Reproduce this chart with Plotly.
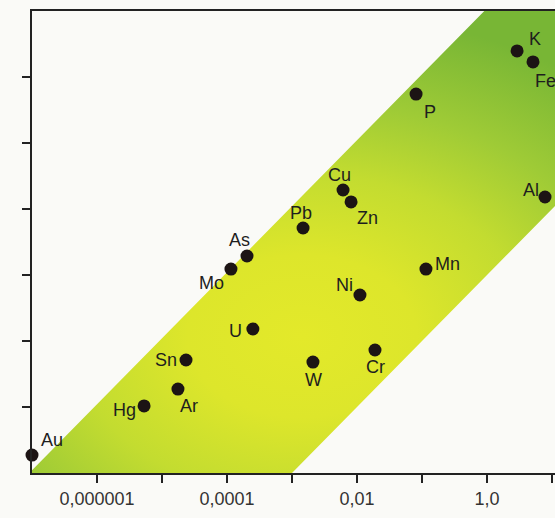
import numpy as np
import plotly.graph_objects as go

# ---- data ----
elements = ["Au", "Hg", "Ar", "Sn", "U", "Mo", "As", "Pb", "Cu", "Zn",
            "Ni", "W", "Cr", "Mn", "Al", "P", "K", "Fe"]
x_values = [1e-7, 5.3e-6, 1.76e-5, 2.34e-5, 2.5e-4, 1.15e-4, 2.03e-4, 1.48e-3, 6.1e-3, 8.1e-3,
            0.0111, 2.1e-3, 0.0189, 0.115, 7.8, 0.081, 2.9, 5.1]
y_values = [1.87, 10.4, 18.7, 51.5, 152, 1230, 1940, 5150, 19400, 12800,
            498, 48, 73, 1230, 15200, 552000, 2.48e6, 1.69e6]

x_tick_vals = [1e-6, 1e-5, 1e-4, 1e-3, 1e-2, 1e-1, 1, 10]
x_tick_text = ["0,000001", "", "0,0001", "", "0,01", "", "1,0", ""]
y_tick_vals = [10, 100, 1e3, 1e4, 1e5, 1e6]

# band limits (y = factor * x)
band_upper_factor = 1.1e7
band_lower_factor = 1e3

# label offsets in pixels (dx right, dy down)
label_dx = [20, -20, 11, -20, -17, -19, -7, -2, -4, 16, -15, 1, 1, 22, -14, 14, 18, 12]
label_dy = [-15, 4, 17, 0, 2, 14, -16, -15, -15, 16, -10, 18, 17, -5, -7, 18, -12, 19]

xmin, xmax = 1e-7, 10 ** 1.046
ymin, ymax = 1, 1e7

# band polygon, extended outside the visible area (clipped) so the
# radial gradient centre sits in the lower middle of the band
y_ext = 10 ** -2.85
x_far = 10 ** 4.2
x_r = 10 ** 1.2
band_x = [y_ext / band_upper_factor, ymax / band_upper_factor, x_far, x_far, x_r, y_ext / band_lower_factor]
band_y = [y_ext, ymax, ymax, band_lower_factor * x_r, band_lower_factor * x_r, y_ext]

fig = go.Figure()
fig.add_trace(go.Scatter(
    x=band_x, y=band_y, mode="lines", line=dict(width=0),
    fill="toself",
    fillgradient=dict(type="radial",
                      colorscale=[[0, "#e3e92a"], [0.25, "#dde62b"], [0.5, "#c3dc30"],
                                  [0.72, "#9fcb36"], [1, "#78b635"]]),
    hoverinfo="skip", showlegend=False,
))
fig.add_trace(go.Scatter(
    x=x_values, y=y_values, mode="markers",
    marker=dict(size=13, color="#1c1414"),
    cliponaxis=False, showlegend=False, hoverinfo="skip",
))

for name, xv, yv, dx, dy in zip(elements, x_values, y_values, label_dx, label_dy):
    fig.add_annotation(x=np.log10(xv), y=np.log10(yv), xref="x", yref="y",
                       text=name, showarrow=False, xshift=dx, yshift=-dy,
                       font=dict(family="Liberation Sans, Arial, sans-serif", size=18, color="#1e1e1e"))

fig.update_layout(
    width=555, height=518,
    margin=dict(l=32, r=0, t=11, b=45),
    paper_bgcolor="#fafaf7", plot_bgcolor="#fafaf7",
    xaxis=dict(type="log", range=[np.log10(xmin), np.log10(xmax)],
               tickvals=x_tick_vals, ticktext=x_tick_text,
               ticks="outside", ticklen=8, tickwidth=2, tickcolor="#222",
               showline=True, linecolor="#222", linewidth=2, mirror=True,
               showgrid=False, zeroline=False,
               tickfont=dict(family="Liberation Sans, Arial, sans-serif", size=18, color="#333")),
    yaxis=dict(type="log", range=[0, 7],
               tickvals=y_tick_vals, showticklabels=False,
               ticks="outside", ticklen=8, tickwidth=2, tickcolor="#222",
               showline=True, linecolor="#222", linewidth=2,
               showgrid=False, zeroline=False),
)

fig.write_html("out.html", config={"displayModeBar": False},
               post_script="document.body.style.margin='0px';")
